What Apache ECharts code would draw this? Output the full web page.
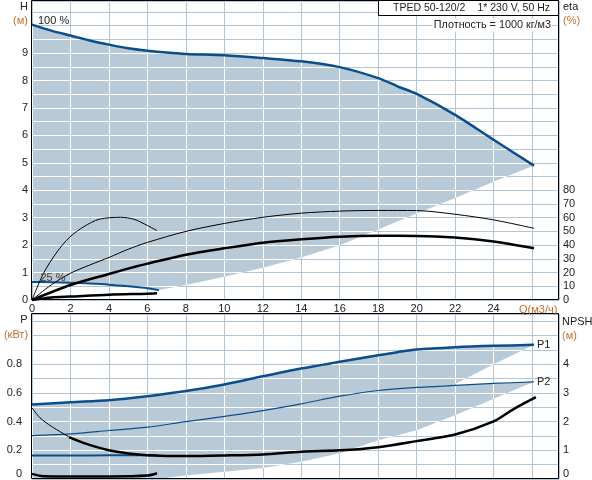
<!DOCTYPE html>
<html><head><meta charset="utf-8">
<script src="https://cdn.jsdelivr.net/npm/echarts@6/dist/echarts.min.js"></script>
<style>html,body{margin:0;padding:0;background:#fff}#c{width:592px;height:480px}</style>
</head><body><div id="c"></div>
<script>
// ---------- data ----------
// top panel: head H (m) vs Q (m3/h)
const h100 = [[0,10.04],[1,9.82],[2,9.64],[3,9.46],[4,9.31],[5,9.18],[6,9.09],[7,9.02],[8,8.97],[10,8.92],[12,8.82],[14,8.70],[16,8.49],[18,8.09],[19,7.79],[20,7.51],[22,6.75],[24,5.84],[26.1,4.9]];
const h25 = [[0,0.66],[1,0.65],[2,0.63],[3,0.60],[4,0.56],[5,0.50],[6,0.43],[6.6,0.36]];
const hMinEdge = [[6.6,0.36],[8,0.55],[10,0.85],[12,1.18],[14,1.55],[16,2.0],[18,2.57],[20,3.15],[22,3.72],[24,4.31],[26.1,4.9]];
// efficiency eta (%)
const eta100 = [[0,0],[1,11],[2,19.5],[3,25.5],[4,31],[5,37],[6,42],[8,50],[10,55.8],[12,60.3],[14,63.3],[16,64.8],[18,65.3],[20,65.2],[22,62.5],[24,58.4],[26.1,52.3]];
const etaTot100 = [[0,0],[2,10.9],[4,19],[5.5,24.8],[6,26.5],[8,33],[10,37.7],[12,41.8],[14,44.3],[16,46.2],[18,46.8],[20,46.7],[22,45.5],[24,42.6],[26.1,37.7]];
const eta25 = [[0,0],[0.6,19.5],[1.3,35],[1.95,45.7],[2.7,53.5],[3.5,58.9],[4.6,60.3],[5.3,58.9],[6,54.3],[6.5,50.6]];
const etaTot25 = [[0,0],[1,1.8],[2,2.5],[4,3.9],[6,4.6],[6.5,4.9]];
// bottom panel: power P (kW), NPSH (m)
const p1 = [[0,0.519],[2,0.535],[4,0.549],[6,0.577],[8,0.613],[10,0.659],[12,0.716],[14,0.77],[16,0.817],[18,0.863],[19,0.884],[20,0.902],[22,0.918],[24,0.928],[26.1,0.935]];
const p2 = [[0,0.303],[2,0.315],[4,0.338],[6,0.361],[8,0.40],[10,0.436],[12,0.477],[14,0.524],[16,0.577],[18,0.617],[20,0.638],[22,0.652],[24,0.666],[26.1,0.677]];
const p1Edge = [[21.9,0.655],[24,0.80],[26.1,0.935]];
const p2Edge = [[0,0],[6.5,0],[8,0.025],[10,0.05],[12,0.077],[14,0.12],[16,0.18],[18,0.27],[20,0.34],[22,0.445],[24,0.56],[26.1,0.677]];
const p1at25 = [[0,0.163],[2,0.164],[4,0.165],[6,0.166],[6.5,0.167]];
const npsh100 = [[0,2.48],[0.42,2.13],[1,1.84],[1.93,1.46],[2.67,1.26],[4,1.0],[5,0.89],[6,0.83],[8,0.8],[10,0.82],[12,0.855],[14,0.95],[16,1.0],[18,1.11],[20,1.32],[22,1.55],[24,2.01],[25,2.42],[26.2,2.85]];
const npsh25 = [[0,0.18],[0.6,0.1],[2,0.09],[4,0.09],[6,0.12],[6.5,0.2]];
// tick labels
const qLabelMax = 24;
const qAxisTitle = 'Q(м3/ч)';
const hLabelMax = 9, etaLabelMax = 80, pLabelMax = 0.8, npshLabelMax = 4;

// ---------- style ----------
const FONT = 'Liberation Sans, Arial, sans-serif';
const FILL = '#b8cad8';
const GRIDC = '#b3c5d8';
const BLUE = '#0a4e8c';
const TXT = '#222';
const UNIT = '#c07030';

function sp(p){const d=Math.round(p*2);return (d+1)%2===0?d/2:(d+1)/2;}
function makePattern(api, xStep, xMax, yStep, yMax){
  const cv=document.createElement('canvas');cv.width=592;cv.height=480;
  const ctx=cv.getContext('2d');ctx.fillStyle=FILL;ctx.fillRect(0,0,592,480);
  ctx.strokeStyle='#fff';ctx.lineWidth=1;ctx.beginPath();
  for(let i=0;i*xStep<=xMax+1e-9;i++){const x=sp(api.coord([i*xStep,0])[0]);ctx.moveTo(x,0);ctx.lineTo(x,480);}
  for(let i=0;i*yStep<=yMax+1e-9;i++){const y=sp(api.coord([0,i*yStep])[1]);ctx.moveTo(0,y);ctx.lineTo(592,y);}
  ctx.stroke();
  return {image:cv,repeat:'no-repeat'};
}
function envSeries(poly, xi, yi, yStep, yMax){
  let pat=null;
  return {type:'custom',xAxisIndex:xi,yAxisIndex:yi,z:1,silent:true,data:[[0,0]],
    renderItem:function(params,api){
      if(!pat) pat=makePattern(api,2,27.4,yStep,yMax);
      return {type:'polygon',shape:{points:poly.map(p=>api.coord(p))},style:{fill:pat}};
    }};
}
const topPoly = h100.concat(hMinEdge.slice().reverse(), h25.slice().reverse());
const botPolyA = p1.concat(p1Edge.slice().reverse(), p2.filter(p=>p[0]<p1Edge[0][0]).reverse());
const botPolyB = p2.concat(p2Edge.slice().reverse());

function line(data, xi, yi, color, width, extra){
  return Object.assign({type:'line',data:data,xAxisIndex:xi,yAxisIndex:yi,showSymbol:false,symbol:'none',
    smooth:0.3,z:3,silent:true,lineStyle:{color:color,width:width}},extra||{});
}
const lblBase = {fontFamily:FONT,fontSize:11,color:TXT};
const F = '10.5px '+FONT;

const option = {
  backgroundColor:'#fff',
  animation:false,
  grid:[{left:32,top:1,width:527,height:299},{left:32,top:314,width:527,height:165}],
  xAxis:[
    {gridIndex:0,type:'value',min:0,max:27.4,interval:2,axisLine:{show:false},axisTick:{show:false},
     axisLabel:Object.assign({margin:3,formatter:v=>(v<=qLabelMax&&Math.abs(v-Math.round(v))<1e-6)?String(Math.round(v)):''},lblBase),
     splitLine:{show:true,lineStyle:{color:GRIDC,width:1}}},
    {gridIndex:1,type:'value',min:0,max:27.4,interval:2,axisLine:{show:false},axisTick:{show:false},axisLabel:{show:false},
     splitLine:{show:true,lineStyle:{color:GRIDC,width:1}}}
  ],
  yAxis:[
    {gridIndex:0,type:'value',min:0,max:10.9,interval:0.5,position:'left',axisLine:{show:false},axisTick:{show:false},
     axisLabel:Object.assign({margin:4,formatter:v=>(Math.abs(v-Math.round(v))<1e-6&&v<=hLabelMax)?String(Math.round(v)):''},lblBase),
     splitLine:{show:true,lineStyle:{color:GRIDC,width:1}}},
    {gridIndex:0,type:'value',min:0,max:218,interval:10,position:'right',axisLine:{show:false},axisTick:{show:false},
     axisLabel:Object.assign({margin:4,formatter:v=>(v<=etaLabelMax)?String(Math.round(v)):''},lblBase),splitLine:{show:false}},
    {gridIndex:1,type:'value',min:0,max:1.15,interval:0.1,position:'left',axisLine:{show:false},axisTick:{show:false},
     axisLabel:Object.assign({margin:10,formatter:v=>{const r=Math.round(v*10);if(Math.abs(v*10-r)>1e-6||r%2||v>pLabelMax+1e-9)return '';return r===0?'{z|0}':String(r/10);},
       rich:{z:{fontFamily:FONT,fontSize:11,color:TXT,padding:[0,0,10,0]}}},lblBase),
     splitLine:{show:true,lineStyle:{color:GRIDC,width:1}}},
    {gridIndex:1,type:'value',min:0,max:5.75,interval:0.5,position:'right',axisLine:{show:false},axisTick:{show:false},
     axisLabel:Object.assign({margin:4,formatter:v=>{if(Math.abs(v-Math.round(v))>1e-6||v>npshLabelMax)return '';return v===0?'{z|0}':String(Math.round(v));},
       rich:{z:{fontFamily:FONT,fontSize:11,color:TXT,padding:[0,0,10,0]}}},lblBase),splitLine:{show:false}}
  ],
  series:[
    envSeries(topPoly,0,0,0.5,10.9),
    envSeries(botPolyA,1,2,0.1,1.15),
    envSeries(botPolyB,1,2,0.1,1.15),
    line(h100,0,0,BLUE,2.5),
    line(h25,0,0,BLUE,2),
    line(eta100,0,1,'#000',1),
    line(etaTot100,0,1,'#000',2.5),
    line(eta25,0,1,'#000',1),
    line(etaTot25,0,1,'#000',2.5),
    line(p1,1,2,BLUE,2.5,{endLabel:{show:true,formatter:'P1',distance:3,fontFamily:FONT,fontSize:11,color:TXT}}),
    line(p2,1,2,BLUE,1.2,{endLabel:{show:true,formatter:'P2',distance:3,fontFamily:FONT,fontSize:11,color:TXT}}),
    line(p1at25,1,2,BLUE,2),
    line(npsh100.filter(p=>p[0]<=1.93),1,3,'#000',1),
    line(npsh100.filter(p=>p[0]>=1.93),1,3,'#000',2.5),
    line(npsh25,1,3,'#000',2.5)
  ],
  graphic:[
    {type:'rect',z:100,shape:{x:31.5,y:0.5,width:527,height:299},style:{fill:'none',stroke:'#000',lineWidth:1},silent:true},
    {type:'rect',z:100,shape:{x:31.5,y:313.5,width:527,height:165},style:{fill:'none',stroke:'#000',lineWidth:1},silent:true},
    {type:'rect',z:101,shape:{x:378.5,y:0.5,width:180,height:15},style:{fill:'#fff',stroke:'#000',lineWidth:1},silent:true},
    {type:'text',z:102,x:393,y:8.5,style:{text:'TPED 50-120/2',font:F,fill:TXT,verticalAlign:'middle'}},
    {type:'text',z:102,x:550,y:8.5,style:{text:'1* 230 V, 50 Hz',font:F,fill:TXT,verticalAlign:'middle',align:'right'}},
    {type:'text',z:102,x:552,y:25,style:{text:'Плотность = 1000 кг/м3',font:'10.8px '+FONT,fill:TXT,verticalAlign:'middle',align:'right',backgroundColor:'#fff',padding:[1,1]}},
    {type:'text',z:102,x:24,y:7,style:{text:'H',font:'11px '+FONT,fill:TXT,verticalAlign:'middle',align:'center'}},
    {type:'text',z:102,x:20.5,y:21,style:{text:'(м)',font:'11px '+FONT,fill:UNIT,verticalAlign:'middle',align:'center'}},
    {type:'text',z:102,x:563,y:7,style:{text:'eta',font:'11px '+FONT,fill:TXT,verticalAlign:'middle'}},
    {type:'text',z:102,x:563,y:21,style:{text:'(%)',font:'11px '+FONT,fill:UNIT,verticalAlign:'middle'}},
    {type:'text',z:102,x:38,y:20.5,style:{text:'100 %',font:'11px '+FONT,fill:TXT,verticalAlign:'middle'}},
    {type:'text',z:102,x:40.5,y:277.5,style:{text:'25 %',font:'11px '+FONT,fill:'#4a3a30',verticalAlign:'middle'}},
    {type:'text',z:102,x:519,y:309.5,style:{text:qAxisTitle,font:'11px '+FONT,fill:UNIT,verticalAlign:'middle'}},
    {type:'text',z:102,x:24,y:320,style:{text:'P',font:'11px '+FONT,fill:TXT,verticalAlign:'middle',align:'center'}},
    {type:'text',z:102,x:16,y:335,style:{text:'(кВт)',font:'11px '+FONT,fill:UNIT,verticalAlign:'middle',align:'center'}},
    {type:'text',z:102,x:562,y:321.5,style:{text:'NPSH',font:'11px '+FONT,fill:TXT,verticalAlign:'middle'}},
    {type:'text',z:102,x:562,y:335.5,style:{text:'(м)',font:'11px '+FONT,fill:UNIT,verticalAlign:'middle'}}
  ]
};
const chart = echarts.init(document.getElementById('c'));
chart.setOption(option);
</script></body></html>
